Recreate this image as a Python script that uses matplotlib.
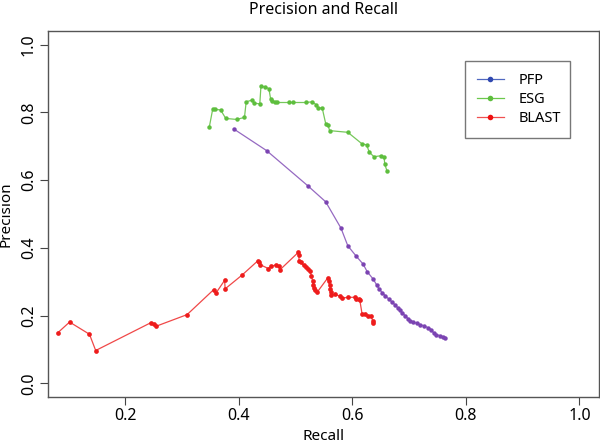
import matplotlib
matplotlib.use("Agg")
import matplotlib.pyplot as plt
from matplotlib.lines import Line2D

plt.rcParams['font.family'] = ['Noto Sans', 'DejaVu Sans']

pfp_recall = [0.391, 0.449, 0.521, 0.553, 0.580, 0.592, 0.607, 0.619, 0.626, 0.637,
              0.643, 0.647, 0.653, 0.658, 0.664, 0.670, 0.675, 0.680, 0.684, 0.688,
              0.693, 0.698, 0.702, 0.707, 0.714, 0.720, 0.727, 0.734, 0.739, 0.743,
              0.747, 0.754, 0.760, 0.764]
pfp_precision = [0.751, 0.687, 0.584, 0.536, 0.458, 0.406, 0.375, 0.352, 0.330, 0.307,
                 0.290, 0.279, 0.267, 0.259, 0.249, 0.240, 0.232, 0.223, 0.216, 0.208,
                 0.200, 0.191, 0.185, 0.181, 0.177, 0.173, 0.169, 0.164, 0.159, 0.149,
                 0.144, 0.141, 0.137, 0.135]

esg_recall = [0.348, 0.354, 0.358, 0.368, 0.377, 0.396, 0.410, 0.413, 0.423, 0.427,
              0.437, 0.439, 0.446, 0.453, 0.456, 0.459, 0.463, 0.468, 0.489, 0.496,
              0.518, 0.529, 0.536, 0.540, 0.547, 0.553, 0.557, 0.560, 0.592, 0.617,
              0.625, 0.630, 0.638, 0.651, 0.656, 0.657, 0.661]
esg_precision = [0.756, 0.809, 0.809, 0.807, 0.782, 0.779, 0.785, 0.831, 0.836, 0.827,
                 0.825, 0.877, 0.875, 0.870, 0.840, 0.834, 0.831, 0.829, 0.829, 0.829,
                 0.829, 0.831, 0.823, 0.814, 0.812, 0.767, 0.762, 0.746, 0.741, 0.707,
                 0.704, 0.682, 0.669, 0.672, 0.667, 0.647, 0.627]

blast_recall = [0.081, 0.102, 0.137, 0.148, 0.245, 0.251, 0.255, 0.309, 0.356, 0.360,
                0.375, 0.376, 0.406, 0.433, 0.436, 0.438, 0.452, 0.456, 0.466, 0.470,
                0.473, 0.505, 0.506, 0.506, 0.509, 0.514, 0.518, 0.522, 0.525, 0.528,
                0.530, 0.531, 0.532, 0.534, 0.538, 0.557, 0.558, 0.560, 0.561, 0.562,
                0.563, 0.570, 0.578, 0.582, 0.593, 0.605, 0.607, 0.611, 0.613, 0.617,
                0.623, 0.627, 0.633, 0.636, 0.637]
blast_precision = [0.149, 0.181, 0.145, 0.097, 0.179, 0.174, 0.169, 0.203, 0.277, 0.267,
                   0.304, 0.279, 0.320, 0.361, 0.357, 0.350, 0.339, 0.345, 0.350, 0.347,
                   0.336, 0.387, 0.380, 0.360, 0.357, 0.348, 0.343, 0.338, 0.331, 0.318,
                   0.301, 0.291, 0.281, 0.275, 0.269, 0.312, 0.301, 0.290, 0.279, 0.269,
                   0.261, 0.263, 0.257, 0.252, 0.254, 0.254, 0.250, 0.249, 0.247, 0.206,
                   0.204, 0.200, 0.198, 0.184, 0.179]

series_names = ["PFP", "ESG", "BLAST"]
x_ticks = [0.2, 0.4, 0.6, 0.8, 1.0]
y_ticks = [0.0, 0.2, 0.4, 0.6, 0.8, 1.0]

fig = plt.figure(figsize=(6.0, 4.43), dpi=100)
ax = fig.add_axes([0.080, 0.104, 0.918, 0.826])

pfp_col = '#7B44B2'
esg_col = '#5EBE3E'
blast_col = '#EE1C1C'

ax.plot(pfp_recall, pfp_precision, '-', color=pfp_col, lw=0.9, alpha=0.8)
ax.plot(pfp_recall, pfp_precision, 'o', color=pfp_col, ms=3.2, mec='none')
ax.plot(esg_recall, esg_precision, '-', color=esg_col, lw=0.9, alpha=0.85)
ax.plot(esg_recall, esg_precision, 'o', color=esg_col, ms=3.2, mec='none')
ax.plot(blast_recall, blast_precision, '-', color='#F04848', lw=0.9)
ax.plot(blast_recall, blast_precision, 'o', color=blast_col, ms=3.4, mec='none')

ax.set_xlim(0.064, 1.034)
ax.set_ylim(-0.04, 1.04)
ax.set_xticks(x_ticks)
ax.set_xticklabels([f"{t:.1f}" for t in x_ticks])
ax.set_yticks(y_ticks)
ax.set_yticklabels([f"{t:.1f}" for t in y_ticks], rotation=90, va='center')
ax.tick_params(direction='out', length=6, width=0.8, colors='#444444',
               labelsize=11.5, labelcolor='black', pad=2)
for s in ax.spines.values():
    s.set_color('#555555')
    s.set_linewidth(1.0)

ax.set_title("Precision and Recall", fontsize=11.5, pad=12)
ax.set_xlabel("Recall", fontsize=11, va='center')
ax.set_ylabel("Precision", fontsize=11, va='center')
ax.xaxis.set_label_coords(0.5, -0.109)
ax.yaxis.set_label_coords(-0.076, 0.5)

handles = [
    Line2D([], [], color='#5068C0', lw=0.9, marker='o', ms=4, mfc='#3048B0', mec='none'),
    Line2D([], [], color='#6CC84C', lw=0.9, marker='o', ms=4, mfc='#5EBE3E', mec='none'),
    Line2D([], [], color='#F05050', lw=0.9, marker='o', ms=4, mfc='#EE1010', mec='none'),
]
leg = ax.legend(handles, series_names, loc='upper left',
                bbox_to_anchor=(0.757, 0.718, 0.1906, 0.2), mode='expand',
                fontsize=10.5, frameon=True, fancybox=False, edgecolor='#555555',
                borderpad=0.8, labelspacing=0.3, handlelength=1.9, handletextpad=1.0,
                borderaxespad=0)
leg.get_frame().set_linewidth(1.0)

fig.savefig("out.png", dpi=100)
